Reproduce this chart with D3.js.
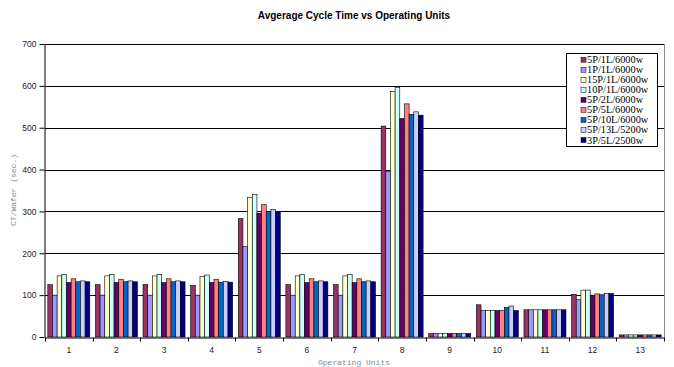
<!DOCTYPE html>
<html>
<head>
<meta charset="utf-8">
<script src="https://cdn.jsdelivr.net/npm/d3@7"></script>
<style>
  html, body { margin: 0; padding: 0; background: #fff; }
  svg { display: block; }
</style>
</head>
<body>
<svg id="chart" width="674" height="367"></svg>
<script>
// Operating units on the x axis
const categories = ["1","2","3","4","5","6","7","8","9","10","11","12","13"];

// Configuration names, in legend order
const seriesNames = ["5P/1L/6000w","1P/1L/6000w","15P/1L/6000w","10P/1L/6000w","5P/2L/6000w",
                     "5P/5L/6000w","5P/10L/6000w","5P/13L/5200w","3P/5L/2500w"];

// Average cycle time per wafer (sec.) for each configuration
const s5P1L  = [125,125,125,123,283,125,125,504,8,77,65,102,5];
const s1P1L  = [100,100,100,100,216,100,100,396,8,63,65,89,5];
const s15P1L = [146,146,146,145,333,146,146,587,8,63,65,112,5];
const s10P1L = [149,149,149,148,341,149,149,596,8,63,65,112,5];
const s5P2L  = [130,130,130,130,296,130,130,522,8,63,65,100,5];
const s5P5L  = [139,138,139,138,316,139,139,557,8,63,65,103,5];
const s5P10L = [132,132,132,131,300,132,132,532,8,71,65,101,5];
const s5P13L = [134,134,134,133,305,134,134,538,8,74,65,104,5];
const s3P5L  = [132,132,132,131,300,132,132,530,8,63,65,104,5];

const yTicks = [0,100,200,300,400,500,600,700];

const seriesValues = [s5P1L, s1P1L, s15P1L, s10P1L, s5P2L, s5P5L, s5P10L, s5P13L, s3P5L];
const colors = ["#993366","#9999FF","#FFFFCC","#CCFFFF","#660066","#FF8080","#0066CC","#CCCCFF","#000080"];

const svg = d3.select("#chart");
const plot = { left: 45, right: 664, top: 44, bottom: 337 };

const x0 = d3.scaleBand().domain(categories).range([plot.left, plot.right]).paddingInner(0).paddingOuter(0);
const bw = x0.bandwidth();
const x1 = d3.scaleBand().domain(seriesNames).range([bw * 0.059, bw * 0.941]).padding(0);
const y = d3.scaleLinear().domain([0, 700]).range([plot.bottom, plot.top]);
const color = d3.scaleOrdinal().domain(seriesNames).range(colors);

// Title
svg.append("text")
  .attr("x", 354).attr("y", 19)
  .attr("text-anchor", "middle")
  .style("font-family", "'Liberation Sans', Arial, sans-serif")
  .style("font-size", "10px").style("font-weight", "bold")
  .text("Avgerage Cycle Time vs Operating Units");

// Horizontal gridlines
svg.append("g").selectAll("line")
  .data(yTicks.filter(d => d > 0))
  .join("line")
  .attr("x1", plot.left).attr("x2", plot.right)
  .attr("y1", d => Math.round(y(d)) + 0.5).attr("y2", d => Math.round(y(d)) + 0.5)
  .attr("stroke", "#000").attr("stroke-width", 1);

// Right edge of the plot area
svg.append("line")
  .attr("x1", plot.right + 0.5).attr("x2", plot.right + 0.5)
  .attr("y1", plot.top).attr("y2", plot.bottom)
  .attr("stroke", "#888").attr("stroke-width", 1);

// Bars
const rows = categories.map((c, i) => ({ cat: c, vals: seriesNames.map((s, j) => ({ key: s, value: seriesValues[j][i] })) }));
svg.append("g").selectAll("g")
  .data(rows)
  .join("g")
  .attr("transform", d => `translate(${x0(d.cat)},0)`)
  .selectAll("rect")
  .data(d => d.vals)
  .join("rect")
  .attr("x", d => x1(d.key))
  .attr("y", d => y(d.value))
  .attr("width", x1.bandwidth())
  .attr("height", d => y(0) - y(d.value))
  .attr("fill", d => color(d.key))
  .attr("stroke", "#000").attr("stroke-width", 0.6);

// Y axis
const yAxis = svg.append("g")
  .attr("transform", `translate(${plot.left - 0.5},0)`)
  .call(d3.axisLeft(y).tickValues(yTicks).tickSize(5).tickSizeOuter(0).tickPadding(3));
yAxis.select(".domain").attr("stroke", "#000");
yAxis.selectAll(".tick line").attr("stroke", "#000");
yAxis.selectAll("text")
  .style("font-family", "'Liberation Sans', Arial, sans-serif")
  .style("font-size", "8.5px").attr("fill", "#222");

// X axis
const xAxis = svg.append("g")
  .attr("transform", `translate(0,${plot.bottom + 0.5})`)
  .call(d3.axisBottom(x0).tickSize(0).tickPadding(9));
xAxis.select(".domain").attr("stroke", "#000");
xAxis.selectAll("text")
  .style("font-family", "'Liberation Sans', Arial, sans-serif")
  .style("font-size", "8.5px").attr("fill", "#222");
// Tick marks between operating units
xAxis.append("g").selectAll("line")
  .data(categories.concat(["end"]))
  .join("line")
  .attr("x1", (d, i) => Math.round(plot.left + i * bw) + 0.5)
  .attr("x2", (d, i) => Math.round(plot.left + i * bw) + 0.5)
  .attr("y1", 0).attr("y2", 4)
  .attr("stroke", "#000");

// Axis titles
svg.append("text")
  .attr("transform", `translate(16,190) rotate(-90)`)
  .attr("text-anchor", "middle")
  .style("font-family", "'Liberation Mono', 'Courier New', monospace")
  .style("font-size", "8px").attr("fill", "#888")
  .text("CT/Wafer (sec.)");
svg.append("text")
  .attr("x", 354).attr("y", 365)
  .attr("text-anchor", "middle")
  .style("font-family", "'Liberation Mono', 'Courier New', monospace")
  .style("font-size", "8px").attr("fill", "#888")
  .text("Operating Units");

// Legend
const legend = svg.append("g");
legend.append("rect")
  .attr("x", 566.5).attr("y", 53.5).attr("width", 91).attr("height", 93)
  .attr("fill", "#fff").attr("stroke", "#000").attr("stroke-width", 1);
const items = legend.selectAll("g.item")
  .data(seriesNames)
  .join("g").attr("class", "item")
  .attr("transform", (d, i) => `translate(0,${59.7 + i * 10.04})`);
items.append("rect")
  .attr("x", 581).attr("y", -2.5).attr("width", 5).attr("height", 5)
  .attr("fill", d => color(d)).attr("stroke", "#000").attr("stroke-width", 0.5);
items.append("text")
  .attr("x", 587).attr("y", 3.5)
  .style("font-family", "'Liberation Serif', 'Times New Roman', serif")
  .style("font-size", "10.3px").attr("fill", "#000")
  .text(d => d);
</script>
</body>
</html>
